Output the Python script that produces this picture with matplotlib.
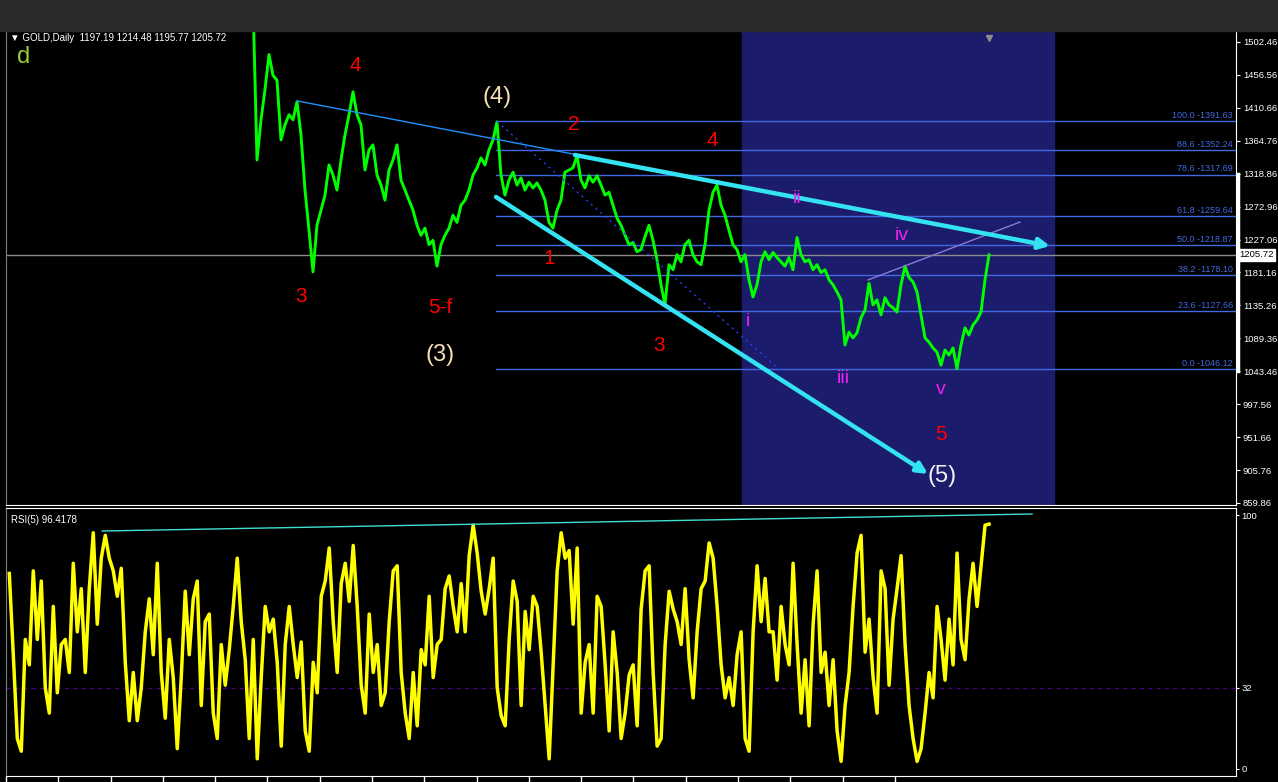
import matplotlib
matplotlib.use("Agg")
import matplotlib.pyplot as plt
from matplotlib.patches import Rectangle
import numpy as np

plt.rcParams['font.family'] = ['Liberation Sans', 'DejaVu Sans']

# daily closes (one value every few bars), first one at bar 61
price_start = 61
close = [
    1560, 1338, 1394, 1436, 1485, 1456, 1449, 1366, 1387, 1401,
    1394, 1419, 1373, 1296, 1240, 1182, 1247, 1268, 1289, 1331,
    1317, 1296, 1338, 1373, 1401, 1433, 1401, 1387, 1324, 1352,
    1359, 1317, 1303, 1282, 1324, 1338, 1359, 1310, 1296, 1282,
    1268, 1247, 1233, 1243, 1220, 1226, 1190, 1220, 1233, 1243,
    1261, 1251, 1275, 1282, 1296, 1317, 1327, 1341, 1331, 1352,
    1366, 1391, 1317, 1289, 1310, 1321, 1303, 1313, 1296, 1307,
    1299, 1306, 1296, 1282, 1251, 1243, 1268, 1282, 1321, 1324,
    1327, 1344, 1310, 1299, 1316, 1307, 1316, 1303, 1289, 1293,
    1275, 1257, 1247, 1233, 1220, 1223, 1210, 1213, 1231, 1247,
    1226, 1199, 1164, 1136, 1192, 1185, 1206, 1196, 1220, 1226,
    1206, 1196, 1192, 1220, 1268, 1293, 1303, 1275, 1261, 1240,
    1220, 1213, 1196, 1206, 1171, 1147, 1164, 1196, 1210, 1199,
    1209, 1202, 1196, 1190, 1202, 1185, 1230, 1206, 1196, 1199,
    1185, 1192, 1181, 1185, 1171, 1164, 1154, 1143, 1080, 1098,
    1090, 1097, 1118, 1129, 1166, 1136, 1143, 1122, 1146, 1136,
    1132, 1126, 1164, 1190, 1174, 1168, 1154, 1122, 1090, 1084,
    1076, 1070, 1052, 1073, 1066, 1076, 1047, 1080, 1104, 1094,
    1108, 1115, 1126, 1171, 1205.72,
]

# RSI(5), same bar spacing, first one at bar 0
rsi = [
    77, 45, 12, 7, 51, 41, 78, 51, 74, 32,
    22, 64, 30, 49, 51, 38, 81, 54, 71, 38,
    71, 93, 57, 83, 92, 83, 78, 68, 79, 42,
    19, 38, 19, 32, 54, 67, 45, 81, 38, 20,
    51, 36, 8, 36, 70, 45, 67, 74, 25, 58,
    61, 22, 12, 49, 33, 47, 64, 83, 58, 43,
    12, 51, 4, 36, 64, 54, 59, 42, 9, 49,
    64, 49, 36, 50, 15, 7, 42, 30, 68, 74,
    87, 58, 38, 73, 81, 66, 88, 64, 33, 22,
    61, 38, 49, 25, 30, 58, 78, 80, 38, 22,
    12, 38, 17, 47, 41, 68, 36, 49, 51, 71,
    76, 64, 54, 73, 54, 84, 96, 85, 70, 61,
    71, 83, 32, 21, 17, 51, 74, 66,
    25, 62, 47, 68, 64, 46, 25, 4, 41, 78,
    93, 83, 86, 57, 87, 22, 42, 49, 22, 68,
    64, 41, 15, 54, 38, 12, 22, 37, 41, 17,
    63, 78, 80, 38, 9, 12, 49, 70, 63, 58,
    49, 71, 43, 28, 54, 71, 74, 89, 83, 64,
    41, 28, 36, 25, 45, 54, 12, 7, 54, 80,
    58, 75, 54, 54, 35, 64, 49, 41, 81, 49,
    22, 43, 17, 57, 78, 38, 46, 25, 43, 15,
    3, 25, 38, 64, 85, 92, 46, 59, 36, 22,
    78, 71, 33, 59, 71, 84, 49, 25, 12, 3,
    8, 22, 38, 28, 64, 51, 35, 59, 41, 85,
    51, 43, 67, 81, 64, 80, 96, 96.4178,
]

fib_levels = [100.0, 88.6, 78.6, 61.8, 50.0, 38.2, 23.6, 0.0]
fib_prices = [1391.63, 1352.24, 1317.69, 1259.64, 1218.87, 1178.10, 1127.66, 1046.12]
fib_start = 121.75

price_ticks = [1502.46, 1456.56, 1410.66, 1364.76, 1318.86, 1272.96, 1227.06,
               1181.16, 1135.26, 1089.36, 1043.46, 997.56, 951.66, 905.76, 859.86]
rsi_ticks = [100, 32, 0]
ohlc_text = "1197.19 1214.48 1195.77 1205.72"
last_close = 1205.72
rsi_last = "96.4178"

# drawn objects (bar index, price)
trend_thin = [(72, 1420.4), (257.75, 1220.9)]
trend_upper = [(141.5, 1344.9), (260.25, 1218.1)]
trend_lower = [(121.75, 1286.4), (229.75, 900.3)]
trend_dotted = [(122, 1391.63), (192.75, 1045.2)]
trend_iv = [(214.75, 1170.7), (252.75, 1251.5)]
rsi_trend = [(23.25, 93.7), (255.75, 100.4)]
box_span = (183.25, 261.25)

# wave labels: text, bar index, price, colour, size
wave_labels = [
    ("3", 73, 1147, 'red', 15), ("4", 86.5, 1470, 'red', 15),
    ("5-f", 107.75, 1133, 'red', 15), ("(3)", 107.75, 1066, '#f5deb3', 17),
    ("(4)", 122, 1426, '#f5deb3', 17), ("2", 141.25, 1387, 'red', 15),
    ("1", 135, 1200, 'red', 15), ("3", 162.5, 1080, 'red', 15),
    ("4", 175.75, 1364.5, 'red', 15), ("ii", 197, 1283.6, '#ee22ee', 14),
    ("i", 184.75, 1113.5, '#ee22ee', 14), ("iii", 208.5, 1032.7, '#ee22ee', 14),
    ("iv", 223.25, 1233.4, '#ee22ee', 14), ("v", 233, 1018.7, '#ee22ee', 14),
    ("5", 233, 954.6, 'red', 15), ("(5)", 233.25, 897.5, '#f0f0f0', 17),
]

W, H = 1278, 782
fig = plt.figure(figsize=(W / 100, H / 100), dpi=100, facecolor='black')
fig.patches.append(Rectangle((0, 1 - 31 / H), 1, 31 / H, transform=fig.transFigure,
                             color='#2a2a2a', zorder=0))

xlim = (-0.75, 306.75)
cyan = '#33e3f2'
fib_col = '#4169e1'

# ---- price panel ----
ax = fig.add_axes([6 / W, 1 - 505 / H, 1230 / W, 473 / H], facecolor='black')
ax.set_xlim(*xlim)
ax.set_ylim(857.0, 1516.4)
ax.axvspan(*box_span, color='#1c1c6c', zorder=0)

for lvl, p in zip(fib_levels, fib_prices):
    ax.plot([fib_start, xlim[1]], [p, p], color=fib_col, lw=1, zorder=1)
    ax.text(xlim[1] - 0.8, p + 1.5, f"{lvl:.1f} -{p:.2f}", color=fib_col,
            fontsize=6.5, ha='right', va='bottom', zorder=2)

ax.axhline(last_close, color='#8c8c8c', lw=1, zorder=1)

bars = np.arange(len(close)) + price_start
ax.plot(bars, close, color='#00ff00', lw=2.1, zorder=3)

(x0, y0), (x1, y1) = trend_thin
ax.plot([x0, x1], [y0, y1], color='#1e90ff', lw=1, zorder=4)
(x0, y0), (x1, y1) = trend_dotted
ax.plot([x0, x1], [y0, y1], color='#2040ff', lw=1, ls=(0, (1.5, 3)), zorder=4)
(x0, y0), (x1, y1) = trend_iv
ax.plot([x0, x1], [y0, y1], color='#8a7ad8', lw=1, zorder=4)
for seg in (trend_upper, trend_lower):
    ax.annotate('', xy=seg[1], xytext=seg[0], zorder=5,
                arrowprops=dict(arrowstyle='-|>', color=cyan, lw=3.2,
                                mutation_scale=16, shrinkA=0, shrinkB=0))

for txt, bx, p, col, fs in wave_labels:
    ax.text(bx, p, txt, color=col, fontsize=fs, ha='center', va='center', zorder=6)

ax.plot(bars[-1], 0.988, marker='v', color='#8c8c8c', ms=5,
        transform=ax.get_xaxis_transform(), clip_on=False, zorder=6)

ax.yaxis.tick_right()
ax.set_yticks(price_ticks)
ax.set_yticklabels([f"{t:.2f}" for t in price_ticks])
ax.tick_params(axis='y', colors='white', labelsize=6.8, length=3, pad=2)
ax.set_xticks([])
ax.spines['top'].set_visible(False)
ax.spines['left'].set_color('#808080')
ax.spines['right'].set_color('white')
ax.spines['bottom'].set_color('white')
ax.plot([1.0015, 1.0015], [1318.9, 1043.5], transform=ax.get_yaxis_transform(),
        color='white', lw=2.5, clip_on=False)
ax.text(1.0025, last_close, f"{last_close:.2f}", transform=ax.get_yaxis_transform(),
        color='black', fontsize=6.8, ha='left', va='center',
        bbox=dict(facecolor='white', edgecolor='white', pad=1.2))

fig.text(10 / W, 1 - 38 / H, "\u25bc GOLD,Daily  " + ohlc_text, color='white',
         fontsize=7, va='center', ha='left')
fig.text(17 / W, 1 - 57 / H, "d", color='#9acd32', fontsize=17, va='center', ha='left')

# ---- RSI panel ----
ax2 = fig.add_axes([6 / W, 1 - 776 / H, 1230 / W, 268 / H], facecolor='black')
ax2.set_xlim(*xlim)
ax2.set_ylim(-2.76, 102.76)
ax2.axhline(32, color='#4b0082', lw=1, ls=(0, (3, 3)))
ax2.plot(np.arange(len(rsi)), rsi, color='#ffff00', lw=2.5, zorder=3)
(x0, y0), (x1, y1) = rsi_trend
ax2.plot([x0, x1], [y0, y1], color='#40e0d0', lw=1, zorder=4)

ax2.yaxis.tick_right()
ax2.set_yticks(rsi_ticks)
ax2.set_yticklabels([str(t) for t in rsi_ticks])
ax2.tick_params(axis='y', colors='white', labelsize=6.8, length=2, pad=2)
ax2.set_xticks(np.arange(18) * 13.075 - 0.825)
ax2.set_xticklabels([])
ax2.tick_params(axis='x', colors='white', length=4, width=1)
ax2.spines['left'].set_color('#808080')
for s in ('right', 'bottom', 'top'):
    ax2.spines[s].set_color('white')
ax2.text(0.004, 0.975, "RSI(5) " + rsi_last, transform=ax2.transAxes, color='white',
         fontsize=7, va='top', ha='left')

fig.savefig("out.png", dpi=100, facecolor=fig.get_facecolor())
